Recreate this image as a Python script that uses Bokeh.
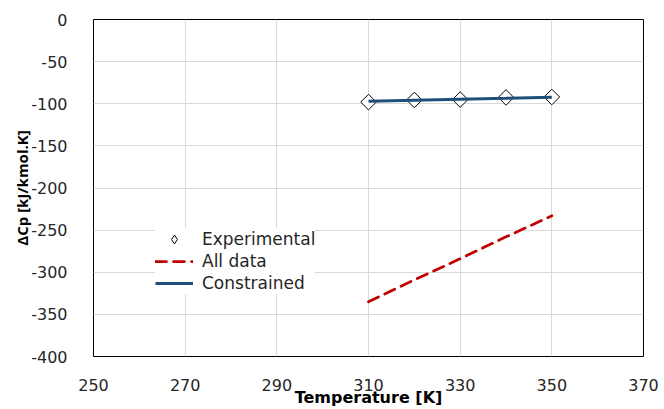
import math
from bokeh.plotting import figure
from bokeh.models import Range1d, FixedTicker, Legend, LegendItem, PrintfTickFormatter
from bokeh.embed import file_html
from bokeh.resources import INLINE

# Data
temperature = [310, 320, 330, 340, 350]
experimental = [-98, -95.5, -95, -92.5, -92]
all_data = [-335, -309, -284, -258, -233]
constrained = [-97, -95.8, -94.6, -93.5, -92.3]

x_ticks = [250, 270, 290, 310, 330, 350, 370]
y_ticks = [0, -50, -100, -150, -200, -250, -300, -350, -400]

FONT = "DejaVu Sans"

p = figure(width=664, height=409, output_backend="svg", toolbar_location=None,
           x_range=Range1d(250, 370), y_range=Range1d(-400, 0),
           min_border_left=93, min_border_right=21, min_border_top=19, min_border_bottom=53)

p.outline_line_color = "black"
p.outline_line_width = 1
p.background_fill_color = "white"
p.border_fill_color = "white"

for g in (p.xgrid, p.ygrid):
    g.grid_line_color = "#D9D9D9"
    g.grid_line_width = 1

p.xaxis.ticker = FixedTicker(ticks=x_ticks)
p.yaxis.ticker = FixedTicker(ticks=y_ticks)
p.xaxis.formatter = PrintfTickFormatter(format="%d")
p.yaxis.formatter = PrintfTickFormatter(format="%d")

for ax in (p.xaxis, p.yaxis):
    ax.axis_line_color = None
    ax.major_tick_line_color = None
    ax.minor_tick_line_color = None
    ax.major_label_text_font = FONT
    ax.major_label_text_font_size = "16px"
    ax.major_label_text_color = "#262626"
    ax.axis_label_text_font_style = "bold"
    ax.axis_label_text_color = "black"

p.xaxis.major_label_standoff = 16
p.yaxis.major_label_standoff = 20
p.xaxis.axis_label = "Temperature [K]"
p.xaxis.axis_label_text_font = FONT
p.xaxis.axis_label_text_font_size = "16px"
p.xaxis.axis_label_standoff = -6
p.yaxis.axis_label = "ΔCp [kJ/kmol.K]"
p.yaxis.axis_label_text_font = "Open Sans"
p.yaxis.axis_label_text_font_size = "15px"
p.yaxis.axis_label_standoff = -4

# diamond renderer used for the legend symbol (zero size on the plot, covered by the markers below)
r_exp_leg = p.scatter(temperature, experimental, marker="diamond", size=0,
                      fill_color="white", line_color="black", line_width=1)
r_exp = p.scatter(temperature, experimental, marker="square", size=11, angle=math.pi / 4,
                  fill_color="white", line_color="black", line_width=1)
r_all = p.line(temperature, all_data, line_color="#C00000", line_width=2.75,
               line_dash="11 7", line_cap="round")
r_con = p.line(temperature, constrained, line_color="#1F4E79", line_width=3)

legend = Legend(items=[
    LegendItem(label="Experimental", renderers=[r_exp_leg]),
    LegendItem(label="All data", renderers=[r_all]),
    LegendItem(label="Constrained", renderers=[r_con]),
], location=(62, 62))
legend.border_line_color = None
legend.background_fill_color = "white"
legend.background_fill_alpha = 1
legend.padding = 10
legend.margin = 0
legend.spacing = 0
legend.glyph_width = 38
legend.glyph_height = 22
legend.label_height = 20
legend.label_standoff = 9
legend.label_text_font = FONT
legend.label_text_font_size = "17px"
legend.label_text_color = "#262626"
p.add_layout(legend, "center")

open("out.html", "w").write(file_html(p, INLINE))
